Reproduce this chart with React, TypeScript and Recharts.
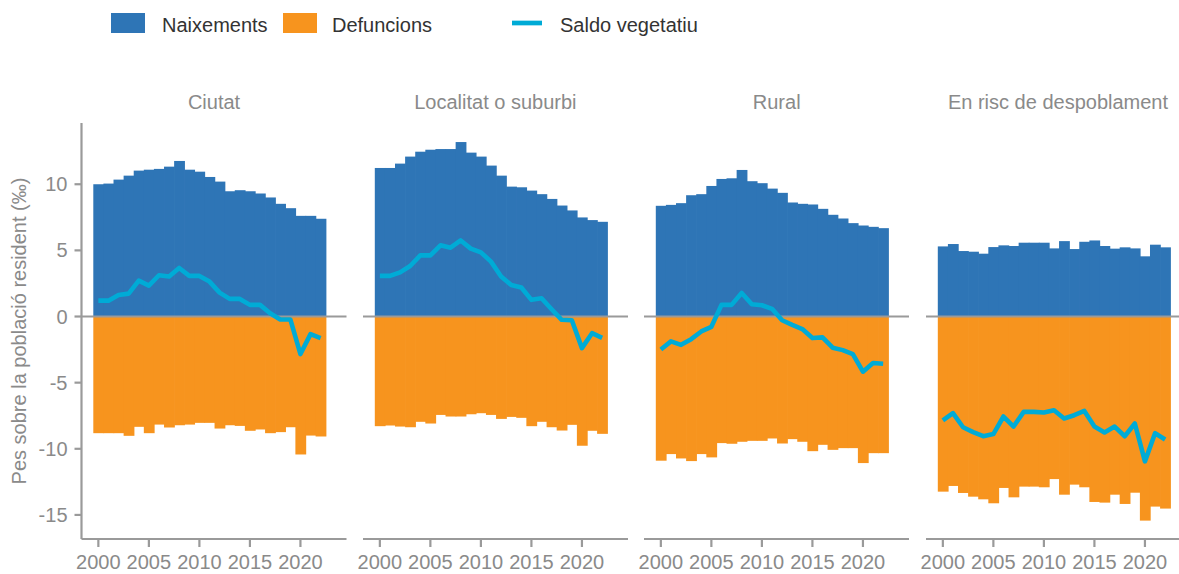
import React from 'react';
import { ComposedChart, Bar, Line, XAxis, YAxis, ReferenceLine } from 'recharts';

const YEARS = [2000, 2001, 2002, 2003, 2004, 2005, 2006, 2007, 2008, 2009, 2010, 2011, 2012, 2013, 2014, 2015, 2016, 2017, 2018, 2019, 2020, 2021, 2022];
const PANEL_TITLES = ['Ciutat', 'Localitat o suburbi', 'Rural', 'En risc de despoblament'];
const Y_TICKS = [-15, -10, -5, 0, 5, 10];
const SERIES_NAMES = ['Naixements', 'Defuncions', 'Saldo vegetatiu'];
const Y_TITLE = 'Pes sobre la població resident (‰)';

const ciutatBirths = [10.0, 10.05, 10.35, 10.65, 11.03, 11.1, 11.16, 11.33, 11.76, 11.1, 10.95, 10.55, 10.2, 9.47, 9.55, 9.47, 9.3, 9.0, 8.52, 8.19, 7.61, 7.61, 7.39];
const ciutatDeaths = [-8.82, -8.82, -8.82, -9.02, -8.34, -8.82, -8.17, -8.39, -8.22, -8.17, -8.04, -8.04, -8.47, -8.22, -8.27, -8.64, -8.54, -8.82, -8.74, -8.37, -10.43, -9.0, -9.07];
const ciutatSaldo = [1.2, 1.2, 1.63, 1.73, 2.71, 2.34, 3.12, 3.02, 3.67, 3.07, 3.07, 2.64, 1.81, 1.33, 1.33, 0.88, 0.88, 0.25, -0.22, -0.22, -2.84, -1.33, -1.63];

const localitatBirths = [11.23, 11.23, 11.56, 12.09, 12.46, 12.61, 12.66, 12.66, 13.19, 12.39, 12.09, 11.41, 10.65, 9.82, 9.77, 9.52, 9.25, 8.89, 8.39, 8.02, 7.49, 7.29, 7.16];
const localitatDeaths = [-8.29, -8.24, -8.32, -8.37, -7.96, -8.09, -7.44, -7.56, -7.56, -7.39, -7.31, -7.44, -7.74, -7.59, -7.66, -8.29, -7.96, -8.37, -8.62, -8.19, -9.77, -8.64, -8.87];
const localitatSaldo = [3.07, 3.07, 3.34, 3.82, 4.62, 4.62, 5.38, 5.2, 5.75, 5.13, 4.85, 4.15, 3.02, 2.39, 2.19, 1.26, 1.38, 0.55, -0.25, -0.28, -2.39, -1.26, -1.61];

const ruralBirths = [8.37, 8.44, 8.57, 9.17, 9.25, 9.87, 10.4, 10.45, 11.08, 10.23, 10.08, 9.67, 9.35, 8.62, 8.52, 8.47, 8.14, 7.69, 7.41, 7.06, 6.88, 6.78, 6.68];
const ruralDeaths = [-10.9, -10.4, -10.73, -10.93, -10.4, -10.65, -9.57, -9.62, -9.47, -9.4, -9.4, -9.22, -9.6, -9.27, -9.47, -10.18, -9.7, -10.08, -9.95, -9.95, -11.08, -10.33, -10.33];
const ruralSaldo = [-2.49, -1.88, -2.14, -1.71, -1.13, -0.78, 0.88, 0.88, 1.78, 0.93, 0.85, 0.58, -0.28, -0.63, -0.95, -1.63, -1.58, -2.36, -2.54, -2.84, -4.17, -3.52, -3.57];

const riscBirths = [5.3, 5.48, 4.95, 4.9, 4.75, 5.25, 5.38, 5.33, 5.58, 5.58, 5.58, 5.15, 5.7, 5.1, 5.65, 5.75, 5.33, 5.13, 5.23, 5.15, 4.55, 5.43, 5.23];
const riscDeaths = [-13.24, -12.81, -13.34, -13.62, -13.82, -14.12, -12.96, -13.67, -12.86, -12.86, -12.91, -12.29, -13.47, -12.71, -12.91, -14.02, -14.07, -13.47, -14.17, -13.32, -15.43, -14.37, -14.52];
const riscSaldo = [-7.86, -7.31, -8.37, -8.74, -9.05, -8.89, -7.56, -8.32, -7.21, -7.21, -7.26, -7.09, -7.71, -7.46, -7.14, -8.32, -8.77, -8.32, -9.05, -8.09, -10.95, -8.82, -9.3];

const PANEL_SERIES = [
  [ciutatBirths, ciutatDeaths, ciutatSaldo],
  [localitatBirths, localitatDeaths, localitatSaldo],
  [ruralBirths, ruralDeaths, ruralSaldo],
  [riscBirths, riscDeaths, riscSaldo],
];

const BLUE = '#2E75B6';
const ORANGE = '#F7941E';
const CYAN = '#00ABD6';
const GRAY_LINE = '#9a9a9a';
const GRAY_TEXT = '#8a8a8a';
const FONT = '"Liberation Sans", Arial, sans-serif';

const PANEL_LEFT = [81.5, 362.9, 644.2, 925.5];
const PANEL_W = 265;
const H = 574;
const PLOT_TOP = 123;
const X_AXIS_H = 30;
const BOTTOM_MARGIN = 5;
const Y_AXIS_W = 60;
const SIDE_MARGIN = 30;
const Y_DOMAIN: [number, number] = [-16.82, 14.63];

// Bar shape that slightly overlaps its right neighbour so adjacent bars read as one continuous block
function SeamlessBar(props: any) {
  const { x, y, width, height, fill } = props;
  if (x == null || y == null || width == null || height == null) return null;
  const top = Math.min(y, y + height);
  const h = Math.abs(height);
  return <rect x={x} y={top} width={width + 0.8} height={h} fill={fill} />;
}

function Panel({ index }: { index: number }) {
  const [births, deaths, saldo] = PANEL_SERIES[index];
  const data = YEARS.map((year, i) => ({
    year,
    births: births[i],
    deaths: deaths[i],
    saldo: saldo[i],
  }));
  const first = index === 0;
  const left = first ? 0 : PANEL_LEFT[index] - SIDE_MARGIN;
  const width = first ? PANEL_LEFT[0] + PANEL_W + SIDE_MARGIN : PANEL_W + 2 * SIDE_MARGIN;
  return (
    <div style={{ position: 'absolute', left, top: 0 }}>
      <ComposedChart
        width={width}
        height={H}
        data={data}
        stackOffset="sign"
        barCategoryGap={0}
        barGap={0}
        margin={{
          top: PLOT_TOP,
          right: SIDE_MARGIN,
          bottom: BOTTOM_MARGIN,
          left: first ? PANEL_LEFT[0] - Y_AXIS_W : SIDE_MARGIN,
        }}
      >
        <XAxis
          dataKey="year"
          type="category"
          interval={4}
          height={X_AXIS_H}
          padding={{ left: 11.8, right: 20.8 }}
          tickSize={8}
          tickMargin={8}
          axisLine={{ stroke: GRAY_LINE, strokeWidth: 2.2 }}
          tickLine={{ stroke: GRAY_LINE, strokeWidth: 2.2 }}
          tick={{ fill: GRAY_TEXT, fontSize: 20, fontFamily: FONT }}
        />
        <XAxis xAxisId="full" type="number" domain={[0, 1]} allowDataOverflow hide />
        <YAxis
          type="number"
          domain={Y_DOMAIN}
          allowDataOverflow
          ticks={Y_TICKS}
          hide={!first}
          width={Y_AXIS_W}
          tickSize={7}
          tickMargin={7}
          axisLine={{ stroke: GRAY_LINE, strokeWidth: 2.2 }}
          tickLine={{ stroke: GRAY_LINE, strokeWidth: 2.2 }}
          tick={{ fill: GRAY_TEXT, fontSize: 20, fontFamily: FONT }}
        />
        <Bar dataKey="births" stackId="s" fill={BLUE} shape={SeamlessBar} isAnimationActive={false} />
        <Bar dataKey="deaths" stackId="s" fill={ORANGE} shape={SeamlessBar} isAnimationActive={false} />
        <ReferenceLine y={0} xAxisId="full" stroke={GRAY_LINE} strokeWidth={2.2} />
        <Line
          dataKey="saldo"
          type="linear"
          stroke={CYAN}
          strokeWidth={4.6}
          strokeLinejoin="round"
          dot={false}
          activeDot={false}
          isAnimationActive={false}
        />
      </ComposedChart>
    </div>
  );
}

export default function App() {
  return (
    <div
      style={{
        position: 'absolute',
        left: 0,
        top: 0,
        width: 1179,
        height: H,
        overflow: 'hidden',
        background: '#ffffff',
        fontFamily: FONT,
      }}
    >
      {PANEL_TITLES.map((_, i) => (
        <Panel key={i} index={i} />
      ))}
      <svg
        width={1179}
        height={H}
        style={{ position: 'absolute', left: 0, top: 0, pointerEvents: 'none' }}
      >
        <rect x={111} y={13} width={34} height={20} fill={BLUE} />
        <text x={162} y={31.5} fontSize={20} fill="#333333" fontFamily={FONT}>{SERIES_NAMES[0]}</text>
        <rect x={283} y={13} width={34} height={20} fill={ORANGE} />
        <text x={332} y={31.5} fontSize={20} fill="#333333" fontFamily={FONT}>{SERIES_NAMES[1]}</text>
        <line x1={512} x2={542} y1={23} y2={23} stroke={CYAN} strokeWidth={4.7} />
        <text x={560} y={31.5} fontSize={20} fill="#333333" fontFamily={FONT}>{SERIES_NAMES[2]}</text>
        {PANEL_TITLES.map((t, i) => (
          <text
            key={t}
            x={PANEL_LEFT[i] + PANEL_W / 2}
            y={109}
            fontSize={20}
            fill={GRAY_TEXT}
            textAnchor="middle"
            fontFamily={FONT}
          >
            {t}
          </text>
        ))}
        <text
          transform="rotate(-90)"
          x={-331}
          y={26}
          fontSize={20}
          fill={GRAY_TEXT}
          textAnchor="middle"
          fontFamily={FONT}
        >
          {Y_TITLE}
        </text>
      </svg>
    </div>
  );
}
